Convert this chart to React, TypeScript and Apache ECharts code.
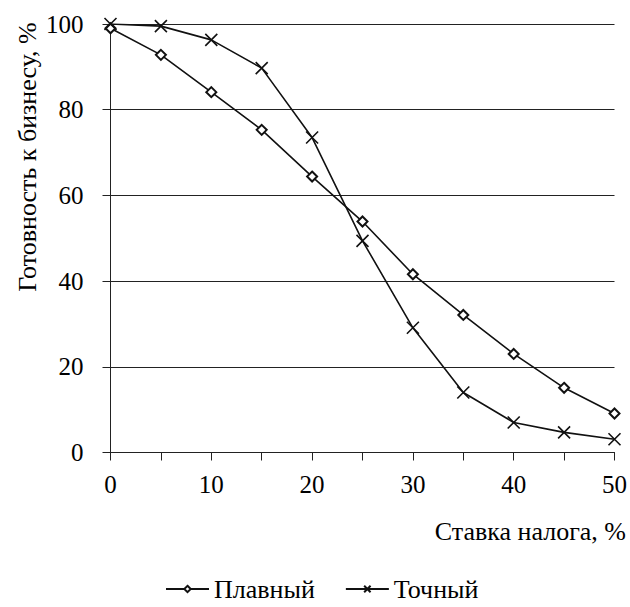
import React, { useEffect, useRef } from "react";
import * as echarts from "echarts";

const xValues = [0, 5, 10, 15, 20, 25, 30, 35, 40, 45, 50];
const smoothValues = [99.0, 92.8, 84.1, 75.3, 64.4, 53.9, 41.6, 32.1, 23.0, 15.1, 9.1];
const exactValues = [100, 99.5, 96.3, 89.7, 73.5, 49.4, 29.1, 14.0, 7.0, 4.7, 3.1];
const seriesNames = ["Плавный", "Точный"];
const yAxisTitle = "Готовность к бизнесу, %";
const xAxisTitle = "Ставка налога, %";

const FONT = "Liberation Serif";
const CROSS = "path://M0,0L10,10M10,0L0,10";

export default function App() {
  const ref = useRef<HTMLDivElement>(null);
  useEffect(() => {
    if (!ref.current) return;
    const chart = echarts.init(ref.current, undefined, { renderer: "svg" });
    chart.setOption({
      animation: false,
      backgroundColor: "#fff",
      textStyle: { fontFamily: FONT, color: "#000" },
      grid: { left: 110.5, right: 15.5, top: 24, bottom: 154.5 },
      xAxis: {
        type: "value",
        min: 0,
        max: 50,
        interval: 5,
        axisLine: { show: true, onZero: false, lineStyle: { color: "#222", width: 1 } },
        axisTick: { show: true, length: 8, lineStyle: { color: "#222" } },
        splitLine: { show: false },
        axisLabel: {
          margin: 19,
          fontSize: 25,
          fontFamily: FONT,
          color: "#000",
          formatter: (v: number) => (v % 10 === 0 ? String(v) : ""),
        },
      },
      yAxis: {
        type: "value",
        min: 0,
        max: 100,
        interval: 20,
        axisLine: { show: true, lineStyle: { color: "#222", width: 1 } },
        axisTick: { show: true, length: 8, lineStyle: { color: "#222" } },
        splitLine: { show: true, lineStyle: { color: "#222", width: 1 } },
        axisLabel: { margin: 27, fontSize: 25, fontFamily: FONT, color: "#000" },
      },
      legend: {
        top: 576,
        left: 165,
        padding: 0,
        itemWidth: 43,
        itemHeight: 8,
        itemGap: 30,
        textStyle: { fontSize: 26, fontFamily: FONT, color: "#000" },
        data: seriesNames,
      },
      graphic: [
        {
          type: "text",
          x: 27,
          y: 157,
          rotation: Math.PI / 2,
          style: {
            text: yAxisTitle,
            fontSize: 26,
            fontFamily: FONT,
            fill: "#000",
            textAlign: "center",
            textVerticalAlign: "middle",
          },
        },
        {
          type: "text",
          x: 626,
          y: 531,
          style: {
            text: xAxisTitle,
            fontSize: 26,
            fontFamily: FONT,
            fill: "#000",
            textAlign: "right",
            textVerticalAlign: "middle",
          },
        },
      ],
      series: [
        {
          name: seriesNames[0],
          type: "line",
          data: xValues.map((x, i) => [x, smoothValues[i]]),
          symbol: "emptyDiamond",
          symbolSize: 10,
          lineStyle: { color: "#111", width: 1.6 },
          itemStyle: { color: "#111", borderColor: "#111", borderWidth: 1.6 },
          z: 3,
        },
        {
          name: seriesNames[1],
          type: "line",
          data: xValues.map((x, i) => [x, exactValues[i]]),
          symbol: CROSS,
          symbolSize: 12,
          lineStyle: { color: "#111", width: 1.6 },
          itemStyle: { color: "#111", borderColor: "#111", borderWidth: 1.6 },
          z: 3,
        },
      ],
    });
    return () => chart.dispose();
  }, []);
  return <div ref={ref} style={{ width: 630, height: 607, position: "absolute", left: 0, top: 0 }} />;
}
